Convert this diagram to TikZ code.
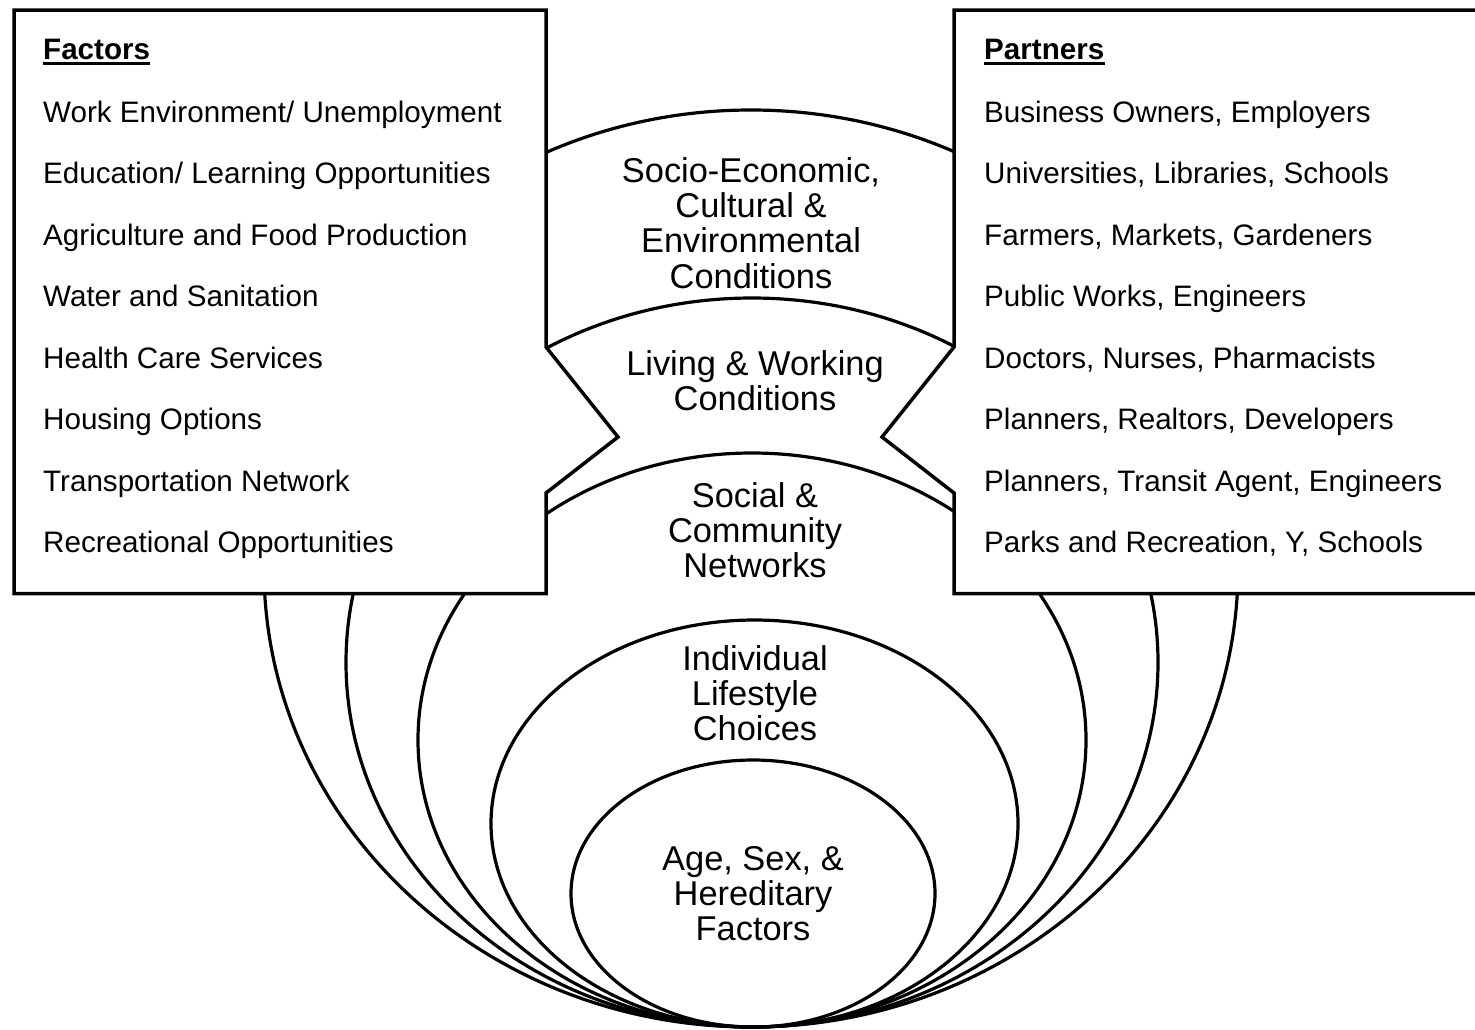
\documentclass[tikz,border=0pt]{standalone}
\usepackage{fontspec}
\setmainfont{Liberation Sans}
\newcommand\stk[1]{\begin{tabular}[t]{@{}c@{}}#1\end{tabular}}
\tikzset{
  ring/.style={line width=3.2pt},
  panel/.style={line width=3.5pt, fill=white, line join=miter},
  item/.style={anchor=base west, inner sep=0pt, font=\fontsize{29.6}{35}\selectfont},
  head/.style={anchor=base west, inner sep=0pt, font=\fontsize{29.6}{35}\selectfont\bfseries},
  band/.style={anchor=base, inner sep=0pt, font=\fontsize{34.4}{34.7}\selectfont},
  uline/.style={line width=3pt},
}
\begin{document}
\begin{tikzpicture}[x=1pt,y=-1pt]
\useasboundingbox (0,0) rectangle (1475,1029);
\clip (0,0) rectangle (1475,1029);
% nested rings
\draw[ring] (751,568.5) ellipse [x radius=487pt, y radius=458.5pt];
\draw[ring] (752,662.5) ellipse [x radius=406pt, y radius=364.5pt];
\draw[ring] (752,740) ellipse [x radius=334pt, y radius=287pt];
\draw[ring] (754.5,823.5) ellipse [x radius=263.5pt, y radius=203.5pt];
\draw[ring] (753,893.5) ellipse [x radius=182pt, y radius=133.5pt];
% panels
\draw[panel] (14,10) -- (546,10) -- (546,347) -- (618,437) -- (546,493) -- (546,593.5) -- (14,593.5) -- cycle;
\draw[panel] (954,347) -- (954,10) -- (1510,10) -- (1510,593.5) -- (954,593.5) -- (954,493) -- (882,437) -- cycle;
% left panel text
\node[head] (f0) at (43,59) {Factors};
\draw[uline] ([yshift=-4.5pt]f0.base west) -- ([yshift=-4.5pt]f0.base east);
\node[item] (f1) at (43,122) {Work Environment/ Unemployment};
\node[item] (f2) at (43,183.5) {Education/ Learning Opportunities};
\node[item] (f3) at (43,245) {Agriculture and Food Production};
\node[item] (f4) at (43,306.5) {Water and Sanitation};
\node[item] (f5) at (43,368) {Health Care Services};
\node[item] (f6) at (43,429.5) {Housing Options};
\node[item] (f7) at (43,491) {Transportation Network};
\node[item] (f8) at (43,552.5) {Recreational Opportunities};
% right panel text
\node[head] (p0) at (984,59) {Partners};
\draw[uline] ([yshift=-4.5pt]p0.base west) -- ([yshift=-4.5pt]p0.base east);
\node[item] (p1) at (984,122) {Business Owners, Employers};
\node[item] (p2) at (984,183.5) {Universities, Libraries, Schools};
\node[item] (p3) at (984,245) {Farmers, Markets, Gardeners};
\node[item] (p4) at (984,306.5) {Public Works, Engineers};
\node[item] (p5) at (984,368) {Doctors, Nurses, Pharmacists};
\node[item] (p6) at (984,429.5) {Planners, Realtors, Developers};
\node[item] (p7) at (984,491) {Planners, Transit Agent, Engineers};
\node[item] (p8) at (984,552.5) {Parks and Recreation, Y, Schools};
% ring labels
\node[band] (b1) at (751,182) {\stk{Socio-Economic,\\Cultural \&\\Environmental\\Conditions}};
\node[band] (b2) at (755,375) {\stk{Living \& Working\\Conditions}};
\node[band] (b3) at (755,507) {\stk{Social \&\\Community\\Networks}};
\node[band] (b4) at (755,670) {\stk{Individual\\Lifestyle\\Choices}};
\node[band] (b5) at (753,870) {\stk{Age, Sex, \&\\Hereditary\\Factors}};
\end{tikzpicture}
\end{document}
